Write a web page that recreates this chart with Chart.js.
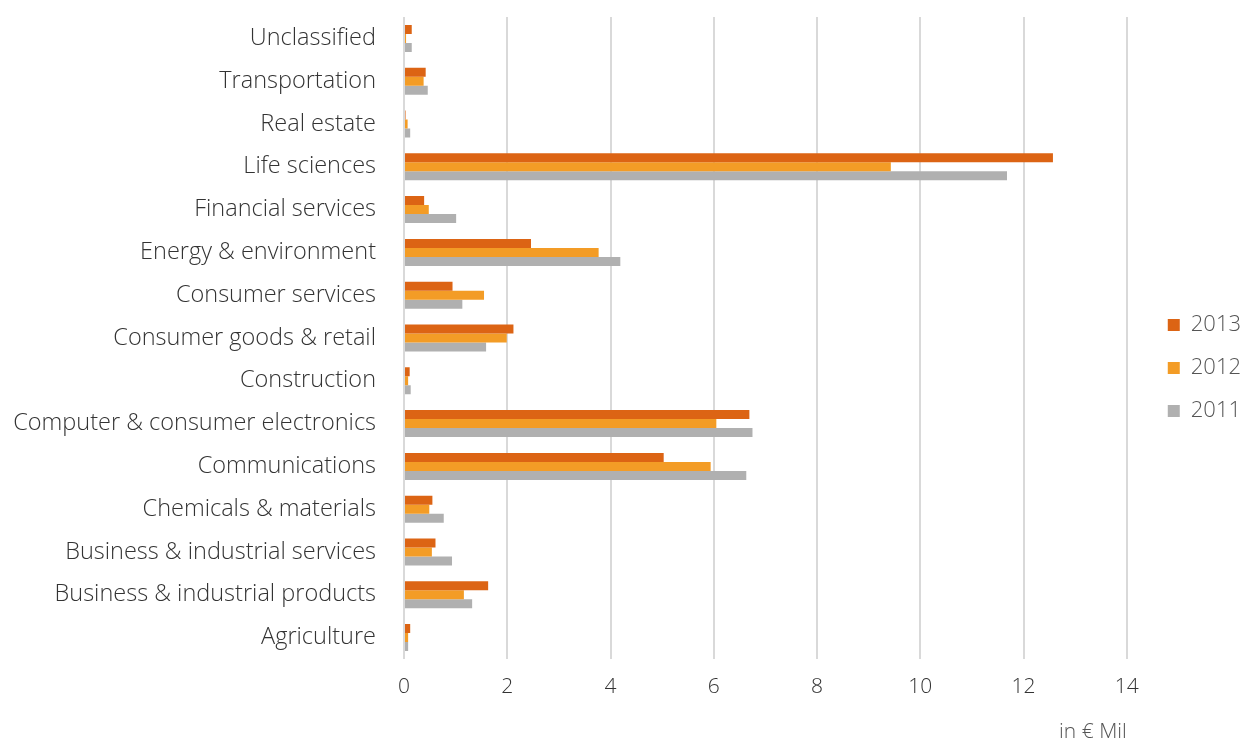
<!DOCTYPE html>
<html>
<head>
<meta charset="utf-8">
<script src="https://cdn.jsdelivr.net/npm/chart.js@4/dist/chart.umd.min.js"></script>
<style>
  body { margin: 0; background: #fff; }
  #wrap { width: 1248px; height: 743px; }
</style>
</head>
<body>
<div id="wrap"><canvas id="chart"></canvas></div>
<script>
const categories = [
  "Unclassified", "Transportation", "Real estate", "Life sciences",
  "Financial services", "Energy & environment", "Consumer services",
  "Consumer goods & retail", "Construction", "Computer & consumer electronics",
  "Communications", "Chemicals & materials", "Business & industrial services",
  "Business & industrial products", "Agriculture"
];
const years = ["2013", "2012", "2011"];
const values2013 = [0.15, 0.42, 0.03, 12.57, 0.39, 2.46, 0.94, 2.12, 0.11, 6.69, 5.03, 0.55, 0.61, 1.63, 0.12];
const values2012 = [0.04, 0.38, 0.07, 9.43, 0.48, 3.77, 1.55, 1.99, 0.08, 6.05, 5.94, 0.49, 0.54, 1.16, 0.08];
const values2011 = [0.15, 0.46, 0.12, 11.68, 1.01, 4.19, 1.13, 1.59, 0.13, 6.75, 6.63, 0.77, 0.93, 1.32, 0.08];
const xTicks = [0, 2, 4, 6, 8, 10, 12, 14];

const colors = ['#dc6414', '#f39c26', '#b0b0b0'];
const family = "'Open Sans'";
const tickFont = { family: family, size: 21, weight: 300, lineHeight: 1 };
const labelFont = { family: family, size: 23.5, weight: 300, lineHeight: 1 };
const legendFont = { family: family, size: 22, weight: 300, lineHeight: 1 };

// legend sits a little above the middle and further right in the original
const legendShift = {
  id: 'legendShift',
  afterLayout(chart) {
    chart.legend.top -= 12;
    chart.legend.bottom -= 12;
    chart.legend.left += 20;
    chart.legend.right += 20;
  }
};

let ctx = document.getElementById('chart').getContext('2d');
new Chart(ctx, {
  type: 'bar',
  data: {
    labels: categories,
    datasets: [values2013, values2012, values2011].map((vals, i) => ({
      label: years[i],
      data: vals,
      backgroundColor: colors[i],
      barPercentage: 1,
      categoryPercentage: 0.63
    }))
  },
  plugins: [legendShift],
  options: {
    indexAxis: 'y',
    responsive: true,
    maintainAspectRatio: false,
    animation: false,
    layout: { padding: { top: 17, right: 17, bottom: 0, left: 0 } },
    plugins: {
      legend: {
        position: 'right',
        labels: {
          boxWidth: 12,
          boxHeight: 12,
          padding: 21,
          color: '#555',
          font: legendFont
        }
      },
      tooltip: { enabled: false }
    },
    scales: {
      x: {
        min: 0,
        max: 14,
        afterBuildTicks: (scale) => { scale.ticks = xTicks.map(v => ({ value: v })); },
        grid: { color: '#d9d9d9', lineWidth: 2, drawTicks: false },
        border: { display: false },
        ticks: { color: '#333', font: tickFont, padding: 18 },
        title: {
          display: true,
          text: 'in € Mil',
          align: 'end',
          color: '#555',
          font: tickFont,
          padding: { top: 6, bottom: 0 }
        }
      },
      y: {
        grid: { display: false, drawTicks: false },
        border: { display: false },
        ticks: { color: '#333', font: labelFont, padding: 28, autoSkip: false },
        afterFit: (scale) => {
          scale.width = 404;
          scale.paddingTop = 0;
          scale.paddingBottom = 0;
        }
      }
    }
  }
});
</script>
</body>
</html>
